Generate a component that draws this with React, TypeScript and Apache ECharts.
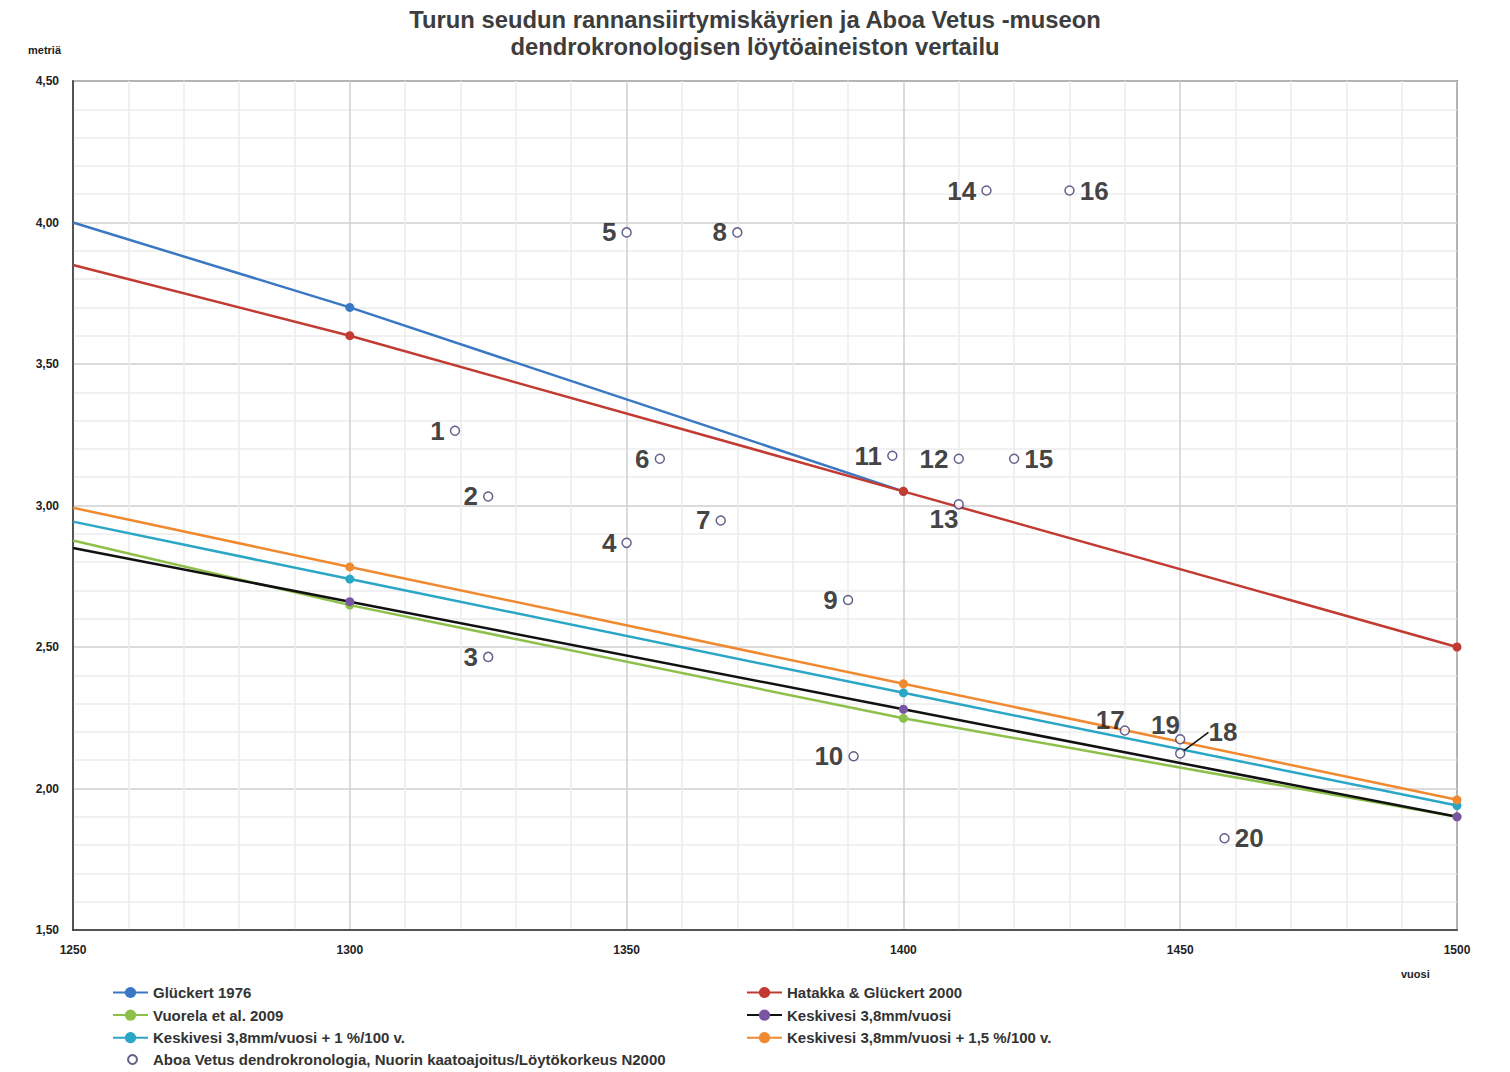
import React, { useEffect, useRef } from "react";
import * as echarts from "echarts";

// ---- data ----
const years = [1250, 1300, 1400, 1500];
const gluckert1976 = [4.0, 3.7, 3.05, null];
const hatakka2000 = [3.85, 3.6, 3.05, 2.5];
const vuorela2009 = [2.876, 2.648, 2.248, 1.9];
const keskivesi = [2.85, 2.66, 2.28, 1.9];
const keskivesi1 = [2.943, 2.74, 2.338, 1.94];
const keskivesi15 = [2.992, 2.783, 2.37, 1.96];

const findIds = [1, 2, 3, 4, 5, 6, 7, 8, 9, 10, 11, 12, 13, 14, 15, 16, 17, 18, 19, 20];
const findYears = [1319, 1325, 1325, 1350, 1350, 1356, 1367, 1370, 1390, 1391, 1398, 1410, 1410, 1415, 1420, 1430, 1440, 1450, 1450, 1458];
const findHeights = [3.264, 3.032, 2.465, 2.868, 3.965, 3.165, 2.947, 3.965, 2.666, 2.114, 3.176, 3.165, 3.004, 4.113, 3.165, 4.113, 2.205, 2.124, 2.174, 1.824];

const xTicks = { min: 1250, max: 1500, interval: 50 };
const yTicks = { min: 1.5, max: 4.5, interval: 0.5 };

const FONT = "'Liberation Sans', Arial, sans-serif";

const labelPosition: Record<number, string> = { 15: "right", 16: "right", 18: "right", 20: "right" };
const labelShift: Record<number, [number, number]> = {
  13: [10, 15],
  17: [10, -10],
  18: [18, -21],
  19: [10, -14],
};

function lineSeries(name: string, values: (number | null)[], lineColor: string, markerColor: string) {
  const data: any[] = [];
  years.forEach((y, i) => {
    const v = values[i];
    if (v == null) return;
    if (i === 0) data.push({ value: [y, v], symbol: "none" });
    else data.push([y, v]);
  });
  return {
    name,
    type: "line",
    data,
    symbol: "circle",
    symbolSize: 9,
    showSymbol: true,
    lineStyle: { color: lineColor, width: 2.5 },
    itemStyle: { color: markerColor },
    emphasis: { disabled: true },
  };
}

const legendText = { fontSize: 15, fontWeight: "bold", color: "#333", fontFamily: FONT };

export default function App() {
  const ref = useRef<HTMLDivElement>(null);
  useEffect(() => {
    document.body.style.margin = "0";
    const chart = echarts.init(ref.current as HTMLDivElement, null, { renderer: "svg" });
    const scatterData = findIds.map((id, i) => {
      const item: any = { value: [findYears[i], findHeights[i]], name: String(id) };
      if (labelPosition[id]) item.label = { position: labelPosition[id] };
      if (id === 18) item.labelLine = { show: true, lineStyle: { color: "#111", width: 1.5 } };
      return item;
    });
    const option: any = {
      animation: false,
      textStyle: { fontFamily: FONT },
      title: {
        text: "Turun seudun rannansiirtymiskäyrien ja Aboa Vetus -museon\ndendrokronologisen löytöaineiston vertailu",
        left: "center",
        top: 1,
        textStyle: { fontSize: 23.8, fontWeight: "bold", color: "#3d3d3d", lineHeight: 27, fontFamily: FONT },
      },
      grid: {
        left: 73,
        right: 53,
        top: 81,
        bottom: 142,
        show: true,
        borderColor: "#333",
        borderWidth: 1.5,
      },
      legend: [
        {
          data: ["Glückert 1976", "Vuorela et al. 2009", "Keskivesi 3,8mm/vuosi + 1 %/100 v."],
          orient: "vertical",
          left: 112,
          top: 985,
          itemWidth: 35,
          itemHeight: 14,
          itemGap: 7.6,
          padding: 0,
          textStyle: legendText,
        },
        {
          data: ["Aboa Vetus dendrokronologia, Nuorin kaatoajoitus/Löytökorkeus N2000"],
          orient: "vertical",
          left: 127,
          top: 1052,
          itemWidth: 9,
          itemHeight: 9,
          padding: 0,
          textStyle: { ...legendText, padding: [0, 0, 0, 11] },
        },
        {
          data: ["Hatakka & Glückert 2000", "Keskivesi 3,8mm/vuosi", "Keskivesi 3,8mm/vuosi + 1,5 %/100 v."],
          orient: "vertical",
          left: 746,
          top: 985,
          itemWidth: 35,
          itemHeight: 14,
          itemGap: 7.6,
          padding: 0,
          textStyle: legendText,
        },
      ],
      xAxis: {
        type: "value",
        min: xTicks.min,
        max: xTicks.max,
        interval: xTicks.interval,
        axisLine: { show: true, lineStyle: { color: "#333", width: 1.5 } },
        axisTick: { show: false },
        axisLabel: {
          fontSize: 12,
          fontWeight: "bold",
          color: "#222",
          margin: 14,
          fontFamily: FONT,
          formatter: (v: number) => String(v),
        },
        splitLine: { show: true, lineStyle: { color: "#cfcfcf", width: 1.5 } },
        minorTick: { show: false, splitNumber: 5 },
        minorSplitLine: { show: true, lineStyle: { color: "#ececec", width: 1.5 } },
      },
      yAxis: {
        type: "value",
        min: yTicks.min,
        max: yTicks.max,
        interval: yTicks.interval,
        axisLine: { show: true, lineStyle: { color: "#333", width: 1.5 } },
        axisTick: { show: false },
        axisLabel: {
          fontSize: 12,
          fontWeight: "bold",
          color: "#222",
          margin: 14,
          fontFamily: FONT,
          formatter: (v: number) => v.toFixed(2).replace(".", ","),
        },
        splitLine: { show: true, lineStyle: { color: "#cfcfcf", width: 1.5 } },
        minorTick: { show: false, splitNumber: 5 },
        minorSplitLine: { show: true, lineStyle: { color: "#ececec", width: 1.5 } },
      },
      graphic: [
        {
          type: "text",
          left: 28,
          top: 44,
          style: { text: "metriä", fontSize: 11, fontWeight: "bold", fill: "#222", fontFamily: FONT },
        },
        {
          type: "text",
          left: 1401,
          top: 968,
          style: { text: "vuosi", fontSize: 11, fontWeight: "bold", fill: "#222", fontFamily: FONT },
        },
      ],
      series: [
        lineSeries("Glückert 1976", gluckert1976, "#3A78C3", "#3A78C3"),
        lineSeries("Hatakka & Glückert 2000", hatakka2000, "#C23B33", "#C23B33"),
        lineSeries("Vuorela et al. 2009", vuorela2009, "#8DC04A", "#8DC04A"),
        lineSeries("Keskivesi 3,8mm/vuosi", keskivesi, "#111111", "#7A55A5"),
        lineSeries("Keskivesi 3,8mm/vuosi + 1 %/100 v.", keskivesi1, "#2AA6C6", "#2AA6C6"),
        lineSeries("Keskivesi 3,8mm/vuosi + 1,5 %/100 v.", keskivesi15, "#F08A30", "#F08A30"),
        {
          name: "Aboa Vetus dendrokronologia, Nuorin kaatoajoitus/Löytökorkeus N2000",
          type: "scatter",
          data: scatterData,
          symbol: "circle",
          symbolSize: 9,
          itemStyle: { color: "#ffffff", borderColor: "#3B3A6E", borderWidth: 1.5 },
          emphasis: { disabled: true },
          z: 5,
          label: {
            show: true,
            position: "left",
            formatter: "{b}",
            fontSize: 26,
            fontWeight: "bold",
            color: "#111",
            fontFamily: FONT,
          },
          labelLine: { show: false },
          labelLayout: (params: any) => {
            const id = findIds[params.dataIndex];
            const s = labelShift[id];
            return s ? { dx: s[0], dy: s[1] } : {};
          },
        },
      ],
    };
    chart.setOption(option);
    return () => chart.dispose();
  }, []);
  return <div ref={ref} style={{ width: 1510, height: 1072 }} />;
}
